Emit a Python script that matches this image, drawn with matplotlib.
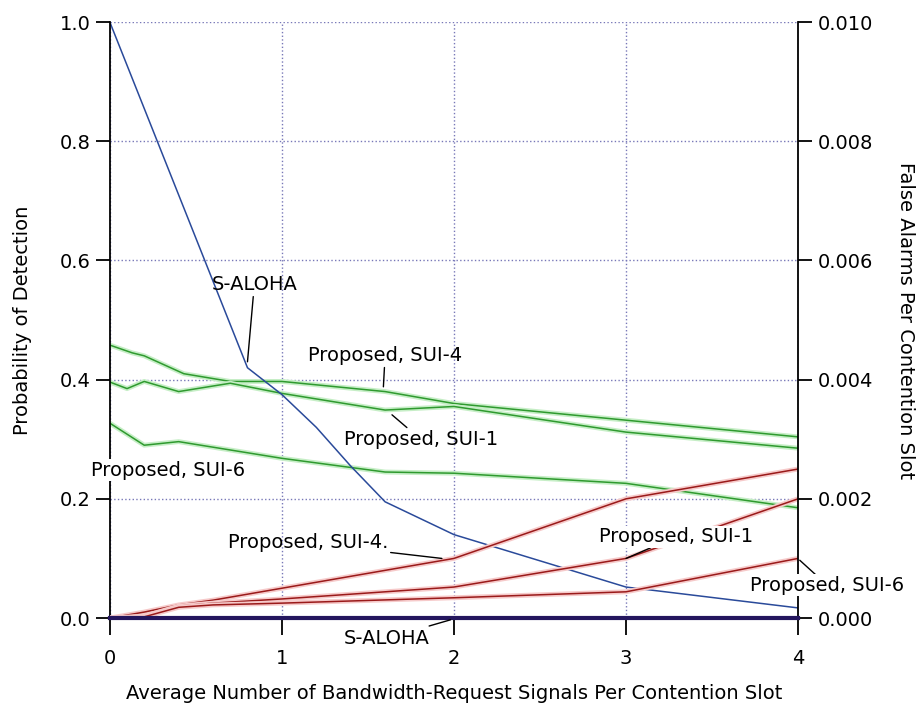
import matplotlib
matplotlib.use("Agg")
import matplotlib.pyplot as plt
import matplotlib.patheffects as pe

# ---- data ----
x_aloha = [0.0, 0.8, 1.0, 1.2, 1.4, 1.6, 2.0, 3.0, 4.0]
pd_aloha = [1.0, 0.42, 0.375, 0.32, 0.255, 0.195, 0.14, 0.052, 0.017]

x_pd_sui4 = [0.0, 0.13, 0.2, 0.43, 0.7, 1.0, 1.6, 2.0, 3.0, 4.0]
pd_sui4 = [0.458, 0.445, 0.44, 0.41, 0.397, 0.397, 0.38, 0.36, 0.332, 0.304]

x_pd_sui1 = [0.0, 0.1, 0.2, 0.4, 0.7, 1.0, 1.6, 2.0, 3.0, 4.0]
pd_sui1 = [0.396, 0.385, 0.397, 0.38, 0.394, 0.377, 0.349, 0.355, 0.312, 0.285]

x_pd_sui6 = [0.0, 0.2, 0.4, 1.0, 1.6, 2.0, 3.0, 4.0]
pd_sui6 = [0.327, 0.29, 0.296, 0.268, 0.245, 0.243, 0.226, 0.185]

x_fa = [0.0, 0.2, 0.4, 0.6, 1.0, 2.0, 3.0, 4.0]
fa_sui4 = [0.0, 0.0001, 0.00022, 0.0003, 0.0005, 0.0010, 0.0020, 0.0025]
fa_sui1 = [0.0, 0.00003, 0.0002, 0.00025, 0.00032, 0.00052, 0.0010, 0.0020]
fa_sui6 = [0.0, 0.00002, 0.00018, 0.00022, 0.00025, 0.00034, 0.00044, 0.0010]
x_fa_aloha = [0.0, 4.0]
fa_aloha = [0.0, 0.0]

x_ticks = [0, 1, 2, 3, 4]
left_ticks = [0.0, 0.2, 0.4, 0.6, 0.8, 1.0]
right_ticks = [0.0, 0.002, 0.004, 0.006, 0.008, 0.010]

FS = 14
plt.rcParams['font.family'] = ['DejaVu Sans']

fig = plt.figure(figsize=(9.23, 7.13), dpi=100)
ax = fig.add_axes([0.119, 0.1332, 0.7456, 0.8358])
ax2 = ax.twinx()

green = '#2f9a2f'
red = '#9a1a1a'
blue = '#2a4a9a'
navy = '#24165e'
gl = [pe.Stroke(linewidth=3.5, foreground='#c6eec6'), pe.Normal()]
rl = [pe.Stroke(linewidth=3.5, foreground='#f6caca'), pe.Normal()]

ax.plot(x_pd_sui4, pd_sui4, color=green, lw=1.1, path_effects=gl)
ax.plot(x_pd_sui1, pd_sui1, color=green, lw=1.1, path_effects=gl)
ax.plot(x_pd_sui6, pd_sui6, color=green, lw=1.1, path_effects=gl)
ax.plot(x_aloha, pd_aloha, color=blue, lw=1.1)

ax2.plot(x_fa, fa_sui4, color=red, lw=1.1, path_effects=rl)
ax2.plot(x_fa, fa_sui1, color=red, lw=1.1, path_effects=rl)
ax2.plot(x_fa, fa_sui6, color=red, lw=1.1, path_effects=rl)
ax2.plot(x_fa_aloha, fa_aloha, color=navy, lw=3, clip_on=False, zorder=5)

ax.set_xlim(0, 4)
ax.set_ylim(0, 1)
ax2.set_ylim(0, 0.01)

ax.set_xticks(x_ticks)
ax.set_xticklabels([str(v) for v in x_ticks], fontsize=FS)
ax.set_yticks(left_ticks)
ax.set_yticklabels(['%.1f' % v for v in left_ticks], fontsize=FS)
ax2.set_yticks(right_ticks)
ax2.set_yticklabels(['%.3f' % v for v in right_ticks], fontsize=FS)

for a in (ax, ax2):
    a.spines['top'].set_visible(False)
    a.spines['bottom'].set_visible(False)
    a.spines['left'].set_linewidth(1.3)
    a.spines['right'].set_linewidth(1.3)
ax.spines['right'].set_visible(False)
ax2.spines['left'].set_visible(False)

ax.tick_params(axis='y', direction='out', length=10, width=1.3, pad=4)
ax.tick_params(axis='x', direction='out', length=12, width=1.3, pad=10)
ax2.tick_params(axis='y', direction='out', length=10, width=1.3, pad=4)

ax.grid(True, color='#7878b8', linestyle=':', linewidth=1.0)
ax.set_axisbelow(True)

ax.set_xlabel('Average Number of Bandwidth-Request Signals Per Contention Slot', fontsize=FS, labelpad=12)
ax.set_ylabel('Probability of Detection', fontsize=FS, labelpad=20)
ax2.set_ylabel('False Alarms Per Contention Slot', fontsize=FS, rotation=-90, labelpad=30)

tr = ax.transData
box = dict(facecolor='white', edgecolor='none', pad=1)
arrow = dict(arrowstyle='-', color='black', lw=1.0, shrinkA=0, shrinkB=0)

ax2.annotate('S-ALOHA', xy=(0.80, 0.43), xycoords=tr, xytext=(0.84, 0.56), textcoords=tr,
             ha='center', va='center', fontsize=FS, arrowprops=arrow, zorder=10)
ax2.annotate('Proposed, SUI-4', xy=(1.59, 0.388), xycoords=tr, xytext=(1.6, 0.441), textcoords=tr,
             ha='center', va='center', fontsize=FS, arrowprops=arrow, zorder=10)
ax2.annotate('Proposed, SUI-1', xy=(1.64, 0.341), xycoords=tr, xytext=(1.81, 0.299), textcoords=tr,
             ha='center', va='center', fontsize=FS, arrowprops=arrow, zorder=10)
ax2.annotate('Proposed, SUI-6', xy=(0.337, 0.248), xycoords=tr,
             ha='center', va='center', fontsize=FS, bbox=box, zorder=10, annotation_clip=False)
ax2.annotate('Proposed, SUI-4.', xy=(1.93, 0.10), xycoords=tr, xytext=(1.15, 0.126), textcoords=tr,
             ha='center', va='center', fontsize=FS, arrowprops=arrow, zorder=10)
ax2.annotate('Proposed, SUI-1', xy=(3.0, 0.10), xycoords=tr, xytext=(3.29, 0.136), textcoords=tr,
             ha='center', va='center', fontsize=FS, arrowprops=arrow, bbox=box, zorder=10)
ax2.annotate('Proposed, SUI-6', xy=(4.01, 0.097), xycoords=tr, xytext=(4.17, 0.055), textcoords=tr,
             ha='center', va='center', fontsize=FS, arrowprops=arrow, bbox=box, zorder=10,
             annotation_clip=False)
ax2.annotate('S-ALOHA', xy=(1.98, -0.003), xycoords=tr, xytext=(1.61, -0.034), textcoords=tr,
             ha='center', va='center', fontsize=FS, arrowprops=arrow, zorder=10,
             annotation_clip=False)

fig.savefig('out.png', dpi=100, facecolor='white')
